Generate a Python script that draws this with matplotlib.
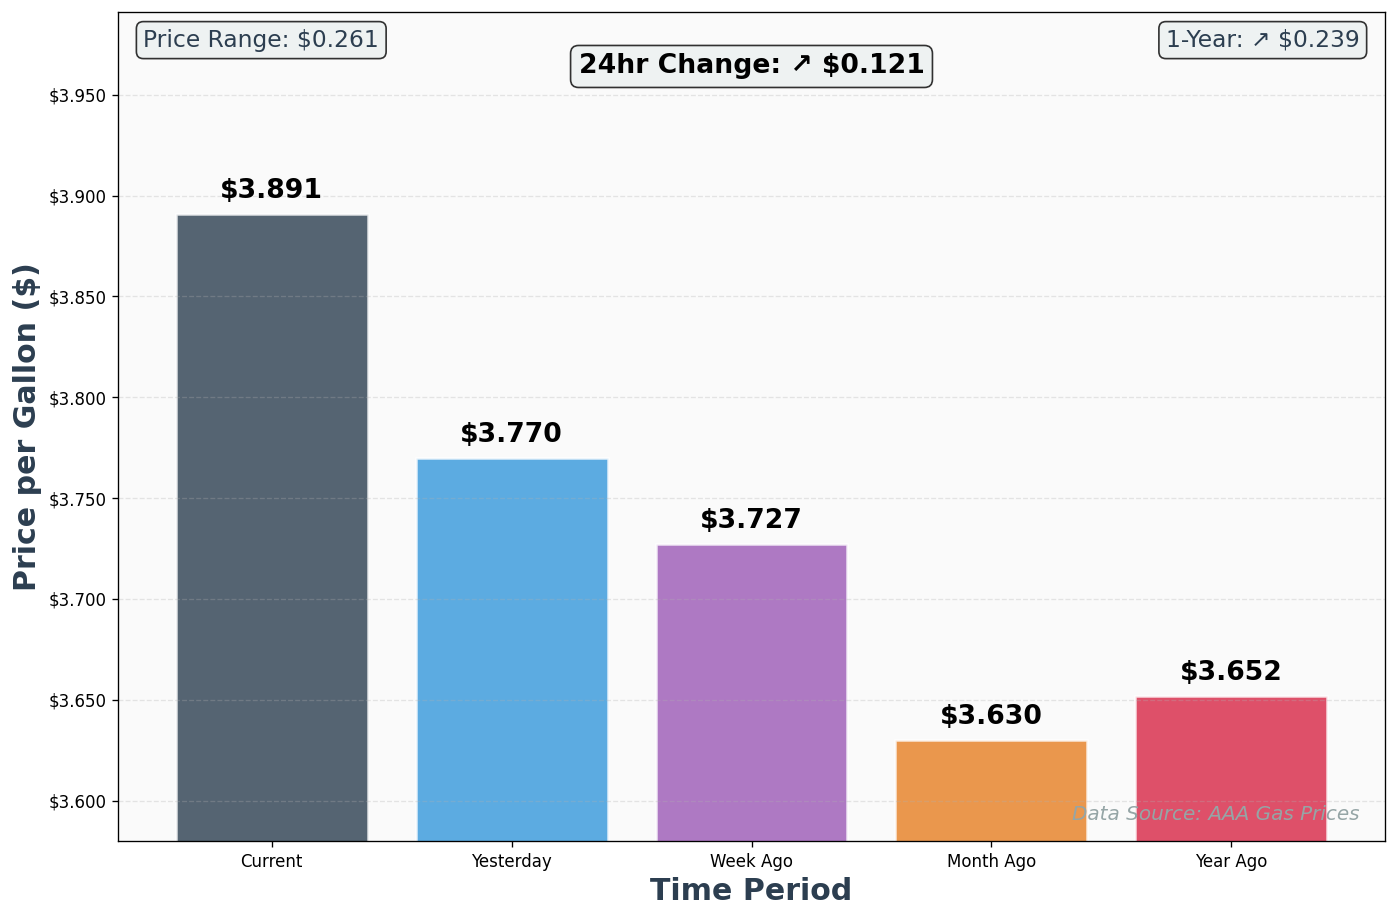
import numpy as np
import matplotlib
matplotlib.use("Agg")
import matplotlib.pyplot as plt
from matplotlib.ticker import FuncFormatter

periods = ['Current', 'Yesterday', 'Week Ago', 'Month Ago', 'Year Ago']
prices = [3.891, 3.770, 3.727, 3.630, 3.652]
colors = ['#2c3e50', '#3498db', '#9b59b6', '#e67e22', '#d72645']

change_24h = prices[0] - prices[1]
change_1y = prices[0] - prices[4]
price_range = max(prices) - min(prices)

fig = plt.figure(figsize=(1397 / 120, 918 / 120), dpi=120)
ax = fig.add_subplot(111)
fig.subplots_adjust(left=0.0845, right=0.9914, top=0.9869, bottom=0.0839)
ax.set_facecolor('#fafafa')

x = np.arange(len(periods))
bars = ax.bar(x, prices, width=0.8, color=colors, alpha=0.8,
              edgecolor='white', linewidth=1.5)

# value labels
for b, p in zip(bars, prices):
    ax.text(b.get_x() + b.get_width() / 2, p + 0.005, f'${p:.3f}',
            ha='center', va='bottom', fontsize=16, fontweight='bold')

ax.set_ylim(min(prices) - 0.05, max(prices) + 0.1)
ax.set_xticks(x)
ax.set_xticklabels(periods)
ax.yaxis.set_major_formatter(FuncFormatter(lambda v, _: f'${v:.3f}'))
ax.grid(axis='y', linestyle='--', alpha=0.3)

ax.set_xlabel('Time Period', fontsize=18, fontweight='bold', color='#2c3e50')
ax.set_ylabel('Price per Gallon ($)', fontsize=18, fontweight='bold', color='#2c3e50')

box = dict(boxstyle='round,pad=0.3', facecolor='#ecf0f1', alpha=0.8)
arrow_24 = '↗' if change_24h >= 0 else '↘'
arrow_1y = '↗' if change_1y >= 0 else '↘'
ax.text(0.5, 0.95, f'24hr Change: {arrow_24} ${abs(change_24h):.3f}',
        transform=ax.transAxes, ha='center', va='top', fontsize=16,
        fontweight='bold', bbox=box)
ax.text(0.02, 0.98, f'Price Range: ${price_range:.3f}', transform=ax.transAxes,
        ha='left', va='top', fontsize=14, color='#2c3e50', bbox=box)
ax.text(0.98, 0.98, f'1-Year: {arrow_1y} ${abs(change_1y):.3f}', transform=ax.transAxes,
        ha='right', va='top', fontsize=14, color='#2c3e50', bbox=box)
ax.text(0.98, 0.02, 'Data Source: AAA Gas Prices', transform=ax.transAxes,
        ha='right', va='bottom', fontsize=12, style='italic', color='#95a5a6')

plt.savefig('out.png', dpi=120)
